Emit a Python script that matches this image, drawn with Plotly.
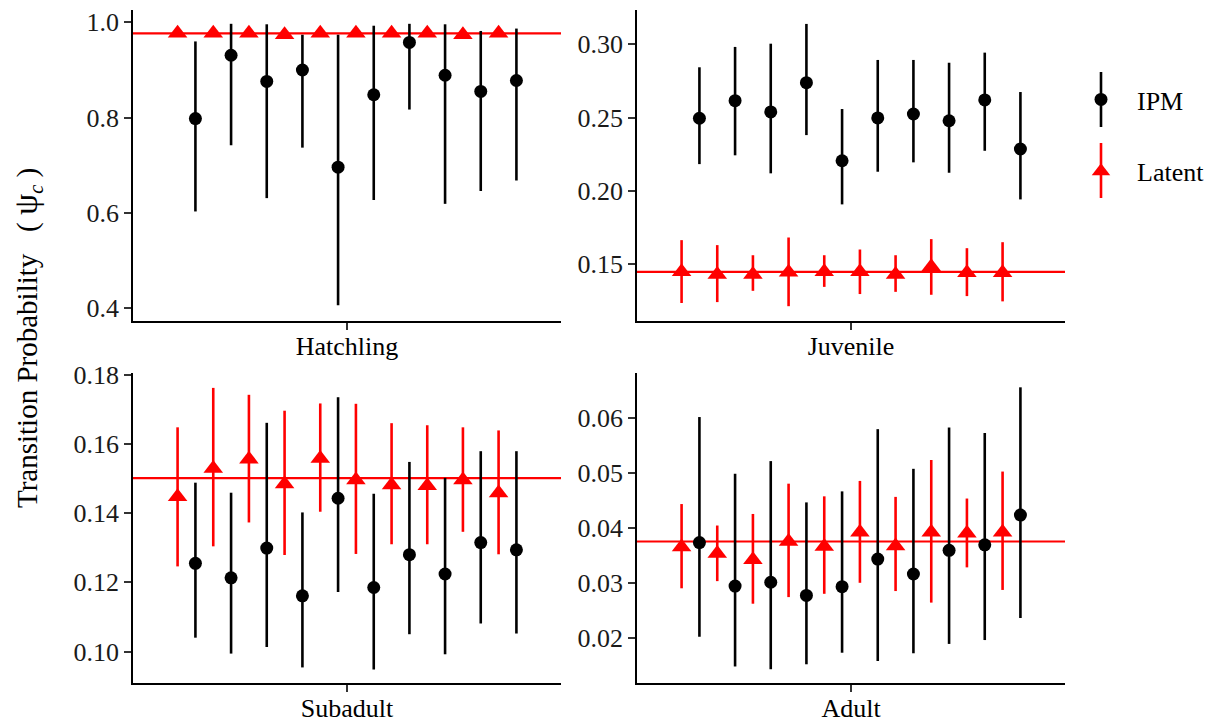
import plotly.graph_objects as go

W, H = 1215, 723

stages = ["Hatchling", "Juvenile", "Subadult", "Adult"]
occasions = list(range(1, 11))

# Latent model (red triangles)
hatch_lat = [0.977, 0.977, 0.977, 0.974, 0.977, 0.977, 0.977, 0.977, 0.974, 0.977]
hatch_lat_lo = [0.974, 0.974, 0.974, 0.971, 0.974, 0.974, 0.974, 0.974, 0.971, 0.974]
hatch_lat_hi = [0.980, 0.980, 0.980, 0.977, 0.980, 0.980, 0.980, 0.980, 0.977, 0.980]

juv_lat = [0.1447, 0.1429, 0.1429, 0.1443, 0.1447, 0.1447, 0.1429, 0.1481, 0.1440, 0.1440]
juv_lat_lo = [0.1234, 0.1240, 0.1317, 0.1212, 0.1344, 0.1295, 0.1310, 0.1290, 0.1281, 0.1245]
juv_lat_hi = [0.1663, 0.1629, 0.1560, 0.1681, 0.1560, 0.1599, 0.1560, 0.1670, 0.1608, 0.1649]

sub_lat = [0.1447, 0.1529, 0.1556, 0.1484, 0.1558, 0.1496, 0.1481, 0.1479, 0.1496, 0.1458]
sub_lat_lo = [0.1246, 0.1304, 0.1373, 0.1279, 0.1404, 0.1282, 0.1310, 0.1310, 0.1346, 0.1281]
sub_lat_hi = [0.1648, 0.1762, 0.1742, 0.1696, 0.1717, 0.1716, 0.1660, 0.1654, 0.1648, 0.1639]

ad_lat = [0.0365, 0.0353, 0.0342, 0.0375, 0.0366, 0.0392, 0.0367, 0.0392, 0.0390, 0.0392]
ad_lat_lo = [0.0290, 0.0303, 0.0262, 0.0274, 0.0280, 0.0300, 0.0285, 0.0264, 0.0328, 0.0287]
ad_lat_hi = [0.0443, 0.0404, 0.0425, 0.0480, 0.0457, 0.0485, 0.0456, 0.0523, 0.0453, 0.0502]

# IPM (black circles)
hatch_ipm = [0.798, 0.931, 0.876, 0.900, 0.696, 0.848, 0.958, 0.889, 0.855, 0.878]
hatch_ipm_lo = [0.603, 0.742, 0.631, 0.737, 0.406, 0.627, 0.817, 0.619, 0.646, 0.668]
hatch_ipm_hi = [0.960, 0.997, 0.996, 0.974, 0.974, 0.993, 0.997, 0.996, 0.982, 0.987]

juv_ipm = [0.2495, 0.2615, 0.2538, 0.2738, 0.2205, 0.2497, 0.2524, 0.2478, 0.2620, 0.2285]
juv_ipm_lo = [0.2182, 0.2242, 0.2119, 0.2380, 0.1907, 0.2130, 0.2194, 0.2123, 0.2273, 0.1941]
juv_ipm_hi = [0.2843, 0.2982, 0.3004, 0.3139, 0.2558, 0.2893, 0.2893, 0.2874, 0.2943, 0.2674]

sub_ipm = [0.1255, 0.1213, 0.1299, 0.1161, 0.1443, 0.1185, 0.1280, 0.1224, 0.1315, 0.1294]
sub_ipm_lo = [0.1040, 0.0994, 0.1013, 0.0954, 0.1172, 0.0948, 0.1050, 0.0992, 0.1081, 0.1052]
sub_ipm_hi = [0.1488, 0.1459, 0.1661, 0.1402, 0.1735, 0.1456, 0.1548, 0.1502, 0.1579, 0.1579]

ad_ipm = [0.0373, 0.0294, 0.0301, 0.0277, 0.0293, 0.0343, 0.0316, 0.0359, 0.0369, 0.0423]
ad_ipm_lo = [0.0202, 0.0148, 0.0143, 0.0152, 0.0173, 0.0158, 0.0172, 0.0189, 0.0196, 0.0236]
ad_ipm_hi = [0.0601, 0.0498, 0.0521, 0.0446, 0.0466, 0.0579, 0.0507, 0.0582, 0.0572, 0.0655]

# Overall latent estimate (red reference line)
latent_mean = [0.977, 0.1447, 0.1501, 0.0375]

# y tick labels per panel
yticks = [
    [0.4, 0.6, 0.8, 1.0],
    [0.15, 0.20, 0.25, 0.30],
    [0.10, 0.12, 0.14, 0.16, 0.18],
    [0.02, 0.03, 0.04, 0.05, 0.06],
]
ytick_fmt = ["{:.1f}", "{:.2f}", "{:.2f}", "{:.2f}"]

lat_sets = [(hatch_lat, hatch_lat_lo, hatch_lat_hi), (juv_lat, juv_lat_lo, juv_lat_hi),
            (sub_lat, sub_lat_lo, sub_lat_hi), (ad_lat, ad_lat_lo, ad_lat_hi)]
ipm_sets = [(hatch_ipm, hatch_ipm_lo, hatch_ipm_hi), (juv_ipm, juv_ipm_lo, juv_ipm_hi),
            (sub_ipm, sub_ipm_lo, sub_ipm_hi), (ad_ipm, ad_ipm_lo, ad_ipm_hi)]

# layout geometry (pixels)
yranges = [[0.373, 1.026], [0.1111, 0.3234], [0.0909, 0.1805], [0.0118, 0.0681]]
xpix = [(133, 561), (637, 1065), (133, 561), (637, 1065)]
ypix = [(10, 321), (10, 321), (373, 683), (373, 683)]

FONT = "Liberation Serif"
fig = go.Figure()

# dodge positions: latent left, IPM right within each occasion
n = len(occasions)
x_lat = [2 * (o - 1) for o in occasions]
x_ipm = [2 * (o - 1) + 1 for o in occasions]

for k, stage in enumerate(stages):
    suf = "" if k == 0 else str(k + 1)
    xa, ya = "x" + suf, "y" + suf
    v, lo, hi = ipm_sets[k]
    fig.add_trace(go.Scatter(
        x=x_ipm, y=v, mode="markers", name="IPM", legendgroup="IPM", showlegend=(k == 0),
        marker=dict(symbol="circle", size=13, color="black"),
        error_y=dict(type="data", symmetric=False,
                     array=[h - c for h, c in zip(hi, v)],
                     arrayminus=[c - l for c, l in zip(v, lo)],
                     width=0, thickness=2.6, color="black"),
        xaxis=xa, yaxis=ya, hoverinfo="skip"))
    v, lo, hi = lat_sets[k]
    fig.add_trace(go.Scatter(
        x=x_lat, y=v, mode="markers", name="Latent", legendgroup="Latent", showlegend=(k == 0),
        marker=dict(symbol="triangle-up", size=17, color="red"),
        error_y=dict(type="data", symmetric=False,
                     array=[h - c for h, c in zip(hi, v)],
                     arrayminus=[c - l for c, l in zip(v, lo)],
                     width=0, thickness=2.6, color="red"),
        xaxis=xa, yaxis=ya, hoverinfo="skip"))
    fig.add_shape(type="line", xref=xa + " domain", yref=ya, x0=0, x1=1,
                  y0=latent_mean[k], y1=latent_mean[k],
                  line=dict(color="red", width=2.2), layer="below")

    x0, x1 = xpix[k]
    y0, y1 = ypix[k]
    fig.layout["xaxis" + suf] = dict(
        domain=[x0 / W, x1 / W], anchor=ya, range=[-2.5, 2 * n + 1.5],
        showline=True, linecolor="black", linewidth=1.8, mirror=False,
        ticks="outside", ticklen=7, tickwidth=1.8, tickcolor="#333333",
        tickvals=[n - 0.5], ticktext=[stage], ticklabelstandoff=-6,
        tickfont=dict(family=FONT, size=26, color="black"),
        showgrid=False, zeroline=False, fixedrange=True, automargin=False)
    fig.layout["yaxis" + suf] = dict(
        domain=[1 - y1 / H, 1 - y0 / H], anchor=xa, range=yranges[k],
        showline=True, linecolor="black", linewidth=1.8,
        ticks="outside", ticklen=7, tickwidth=1.8, tickcolor="#333333",
        tickvals=yticks[k], ticktext=[ytick_fmt[k].format(t) for t in yticks[k]],
        tickfont=dict(family=FONT, size=26, color="#1a1a1a"),
        showgrid=False, zeroline=False, fixedrange=True, automargin=False)

# shared y-axis title
fig.add_annotation(
    text="Transition Probability\u00a0\u00a0\u00a0(\u00a0<span style=\"font-size:34px\">\u03c8</span>"
         "<sub><i>c</i></sub>\u00a0)",
    x=27 / W, y=1 - 338 / H, xref="paper", yref="paper",
    xanchor="center", yanchor="middle",
    showarrow=False, textangle=-90,
    font=dict(family=FONT, size=29, color="black"))

# vertical key lines for the legend entries (ggplot-style pointrange keys)
key_x = 1101 / W
for (ya, yb, col) in [(72, 127, "black"), (143, 198, "red")]:
    fig.add_shape(type="line", xref="paper", yref="paper", x0=key_x, x1=key_x,
                  y0=1 - ya / H, y1=1 - yb / H, line=dict(color=col, width=2.6))

fig.update_layout(
    template="none",
    width=W, height=H, margin=dict(l=0, r=0, t=0, b=0, autoexpand=False),
    paper_bgcolor="white", plot_bgcolor="white",
    showlegend=True,
    legend=dict(x=1065 / W, y=1 - 76 / H, xanchor="left", yanchor="top",
                bgcolor="rgba(0,0,0,0)", borderwidth=0,
                font=dict(family=FONT, size=26, color="black"),
                tracegroupgap=35, itemsizing="trace", itemwidth=62),
    font=dict(family=FONT),
)

fig.write_html("out.html")
